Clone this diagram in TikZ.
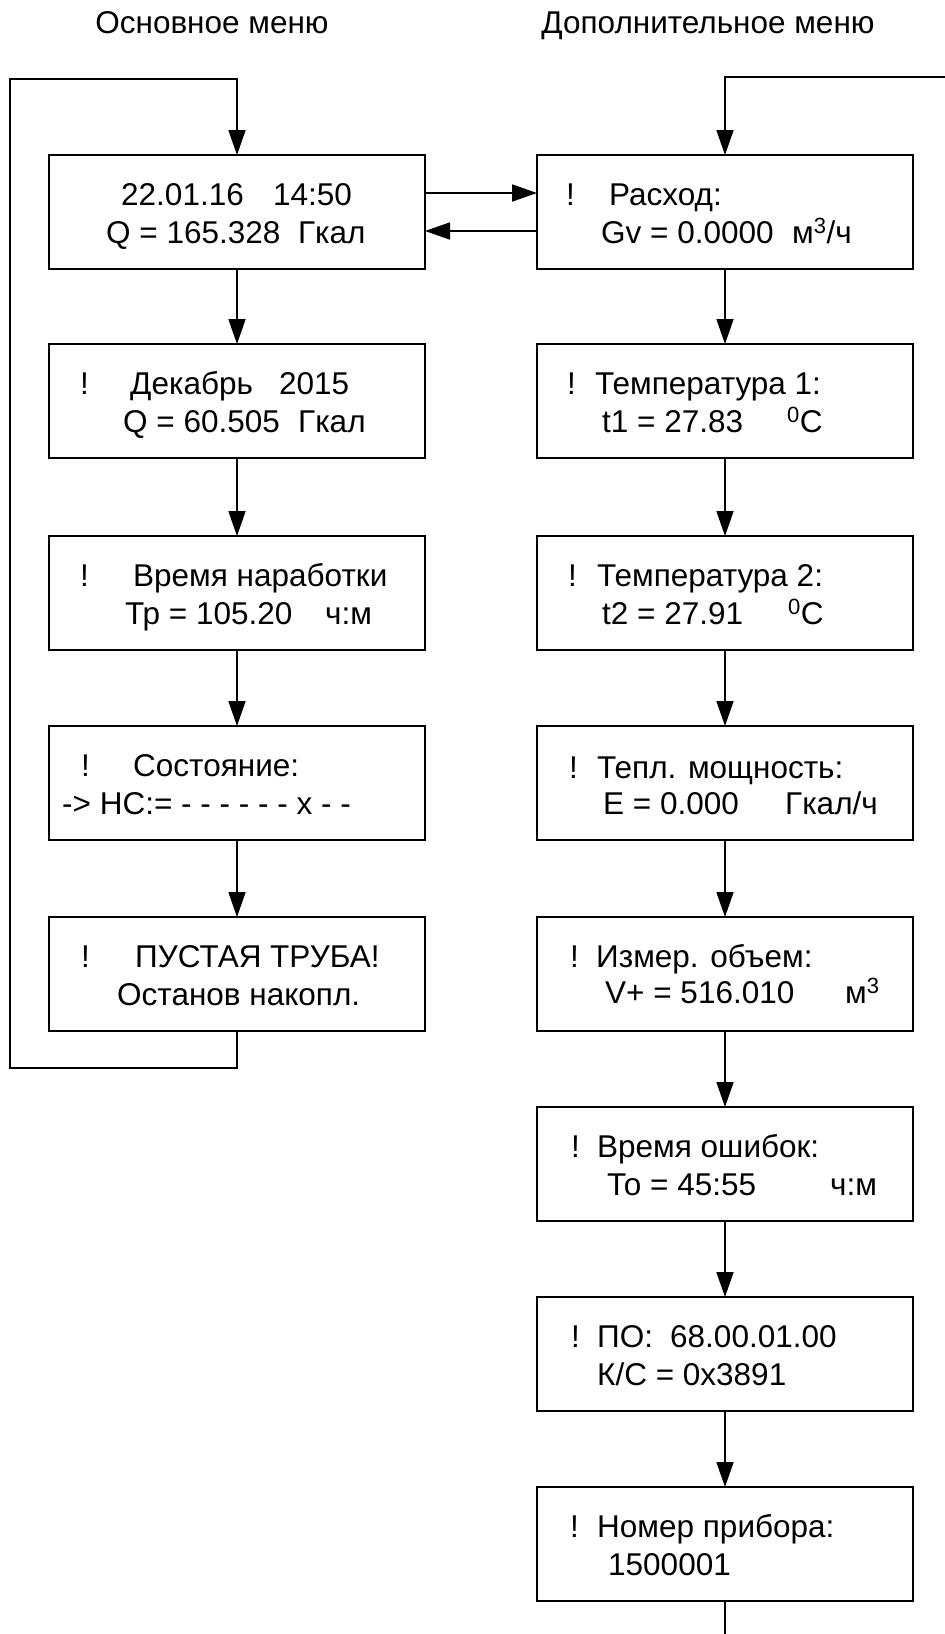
\documentclass[tikz,border=0pt]{standalone}
\usepackage{fontspec}
\setmainfont{Liberation Sans}
\usetikzlibrary{arrows.meta}
\newcommand{\pfx}[2]{\makebox[#1][l]{#2}}
\begin{document}
\begin{tikzpicture}[x=1pt,y=-1pt,
  box/.style={draw=black, line width=2.2pt, rectangle, minimum width=376pt, minimum height=114pt, inner sep=0pt, outer sep=0pt, anchor=north west},
  txt/.style={anchor=base west, inner sep=0pt, font=\fontsize{31.5pt}{37pt}\selectfont},
  ttl/.style={anchor=base, inner sep=0pt, font=\fontsize{31.5pt}{37pt}\selectfont},
  conn/.style={line width=1.8pt},
  arr/.style={line width=1.8pt, -{Triangle[length=25pt,width=17pt]}}]
\fill[white] (0,0) rectangle (945,1634);
\useasboundingbox (0,0) rectangle (945,1634);

% titles
\node[ttl] (tl) at (212,33) {Основное меню};
\node[ttl] (tr) at (708,33) {Дополнительное меню};

% left column boxes
\node[box] (b1) at (49,155) {};
\node[box] (b2) at (49,344) {};
\node[box] (b3) at (49,536) {};
\node[box] (b4) at (49,726) {};
\node[box] (b5) at (49,917) {};

% right column boxes
\node[box] (r1) at (537,155) {};
\node[box] (r2) at (537,344) {};
\node[box] (r3) at (537,536) {};
\node[box] (r4) at (537,726) {};
\node[box] (r5) at (537,917) {};
\node[box] (r6) at (537,1107) {};
\node[box] (r7) at (537,1297) {};
\node[box] (r8) at (537,1487) {};

% left texts
\node[txt] (b1a) at (121,205) {\pfx{152pt}{22.01.16}14:50};
\node[txt] (b1b) at (106,243) {\pfx{192pt}{Q = 165.328}Гкал};
\node[txt] (b2a) at (80,394) {\pfx{50pt}{!}\pfx{149pt}{Декабрь}2015};
\node[txt] (b2b) at (123,432) {\pfx{175pt}{Q = 60.505}Гкал};
\node[txt] (b3a) at (80,586) {\pfx{53pt}{!}Время наработки};
\node[txt] (b3b) at (125,624) {\pfx{200pt}{Тр = 105.20}ч:м};
\node[txt] (b4a) at (81,776) {\pfx{52pt}{!}Состояние:};
\node[txt] (b4b) at (62,814) {-> НС:= - - - - - - х - -};
\node[txt] (b5a) at (81,967) {\pfx{54pt}{!}ПУСТАЯ ТРУБА!};
\node[txt] (b5b) at (117,1005) {Останов накопл.};

% right texts
\node[txt] (r1a) at (566,205) {\pfx{43pt}{!}Расход:};
\node[txt] (r1b) at (601,243) {\pfx{191pt}{Gv = 0.0000}м\textsuperscript{3}/ч};
\node[txt] (r2a) at (567,394) {\pfx{28pt}{!}Температура 1:};
\node[txt] (r2b) at (602,432) {\pfx{185pt}{t1 = 27.83}\textsuperscript{0}C};
\node[txt] (r3a) at (568,586) {\pfx{29pt}{!}Температура 2:};
\node[txt] (r3b) at (602,624) {\pfx{186pt}{t2 = 27.91}\textsuperscript{0}C};
\node[txt] (r4a) at (569,778) {\pfx{28pt}{!}Тепл. мощность:};
\node[txt] (r4b) at (603,814) {\pfx{182pt}{E = 0.000}Гкал/ч};
\node[txt] (r5a) at (570,967) {\pfx{26pt}{!}Измер. объем:};
\node[txt] (r5b) at (605,1003) {\pfx{240pt}{V+ = 516.010}м\textsuperscript{3}};
\node[txt] (r6a) at (571,1157) {\pfx{26pt}{!}Время ошибок:};
\node[txt] (r6b) at (607,1195) {\pfx{223pt}{То = 45:55}ч:м};
\node[txt] (r7a) at (571,1347) {\pfx{26pt}{!}\pfx{73pt}{ПО:}68.00.01.00};
\node[txt] (r7b) at (597,1385) {К/С = 0x3891};
\node[txt] (r8a) at (570,1537) {\pfx{27pt}{!}Номер прибора:};
\node[txt] (r8b) at (608,1575) {1500001};

% loop coordinates
\coordinate (lb) at (10,1068);
\coordinate (lt) at (10,79);
\coordinate (rt) at (946,77);
\coordinate (rb) at (725,1636);

% left column connectors
\draw[arr] (b1.south) -- (b2.north);
\draw[arr] (b2.south) -- (b3.north);
\draw[arr] (b3.south) -- (b4.north);
\draw[arr] (b4.south) -- (b5.north);
\draw[arr] (b5.south) |- (lb) -- (lt) -| (b1.north);

% right column connectors
\draw[arr] (rt) -| (r1.north);
\draw[arr] (r1.south) -- (r2.north);
\draw[arr] (r2.south) -- (r3.north);
\draw[arr] (r3.south) -- (r4.north);
\draw[arr] (r4.south) -- (r5.north);
\draw[arr] (r5.south) -- (r6.north);
\draw[arr] (r6.south) -- (r7.north);
\draw[arr] (r7.south) -- (r8.north);
\draw[conn] (r8.south) -- (r8.south |- rb);

% horizontal connectors
\draw[arr] ([yshift=19pt]b1.east) -- ([yshift=19pt]r1.west);
\draw[arr] ([yshift=-19pt]r1.west) -- ([yshift=-19pt]b1.east);
\end{tikzpicture}
\end{document}
